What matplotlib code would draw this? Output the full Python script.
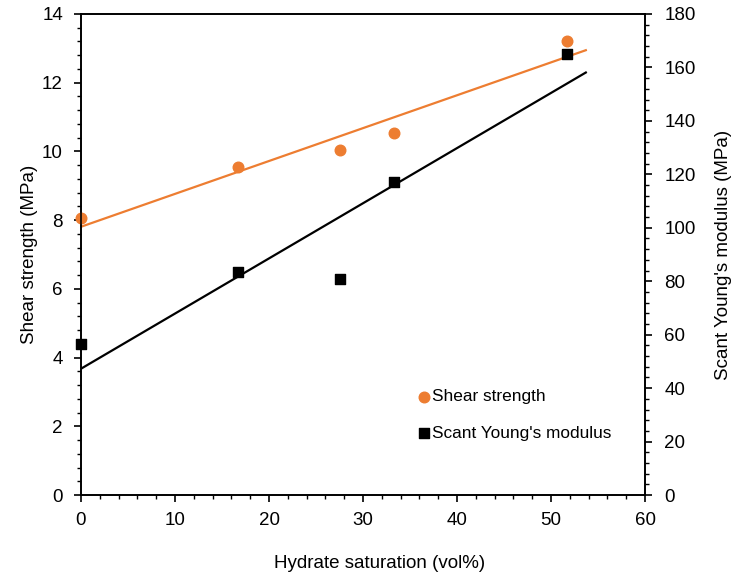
import numpy as np
import matplotlib.pyplot as plt
from matplotlib.ticker import MultipleLocator

plt.rcParams['font.family'] = ['Liberation Sans', 'DejaVu Sans']

# data
saturation = [0, 16.7, 27.5, 33.3, 51.7]
shear_strength = [8.05, 9.55, 10.05, 10.55, 13.2]
youngs_modulus = [56.5, 83.5, 81, 117, 165]
trend_end = 53.7

orange = '#ED7D31'
fs = 13.5

fig = plt.figure(figsize=(7.33, 5.75), dpi=100)
ax = fig.add_axes([0.1105, 0.139, 0.7695, 0.8367])
ax2 = ax.twinx()

# Linear trend lines (least squares, like the spreadsheet trendline)
xs = np.array([0, trend_end])
k1, b1 = np.polyfit(saturation, shear_strength, 1)
k2, b2 = np.polyfit(saturation, youngs_modulus, 1)
ax.plot(xs, k1 * xs + b1, color=orange, lw=1.6, zorder=2)
ax2.plot(xs, k2 * xs + b2, color='black', lw=1.6, zorder=2)

h1 = ax.scatter(saturation, shear_strength, s=58, marker='o', color=orange,
                label='Shear strength', zorder=3, clip_on=False)
h2 = ax2.scatter(saturation, youngs_modulus, s=58, marker='s', color='black',
                 label="Scant Young's modulus", zorder=3, clip_on=False)

ax.set_xlim(0, 60)
ax.set_ylim(0, 14)
ax2.set_ylim(0, 180)
ax.xaxis.set_major_locator(MultipleLocator(10))
ax.xaxis.set_minor_locator(MultipleLocator(2))
ax.yaxis.set_major_locator(MultipleLocator(2))
ax.yaxis.set_minor_locator(MultipleLocator(0.4))
ax2.yaxis.set_major_locator(MultipleLocator(20))
ax2.yaxis.set_minor_locator(MultipleLocator(4))

for a in (ax, ax2):
    a.tick_params(which='major', direction='out', length=5, width=1.2,
                  labelsize=fs, colors='black')
    a.tick_params(which='minor', direction='out', length=3, width=1.0)
    for sp in a.spines.values():
        sp.set_linewidth(1.2)
ax.tick_params(axis='x', pad=7)
ax.tick_params(axis='y', pad=8)
ax2.tick_params(axis='y', pad=9)

ax.set_xlabel('Hydrate saturation (vol%)', fontsize=fs)
ax.xaxis.set_label_coords(0.53, -0.125)
ax.set_ylabel('Shear strength (MPa)', fontsize=fs, labelpad=3)
ax2.set_ylabel("Scant Young's modulus (MPa)", fontsize=fs, labelpad=14)

ax2.legend(handles=[h1, h2], loc='upper left', bbox_to_anchor=(0.572, 0.323),
           bbox_transform=fig.transFigure, frameon=False, fontsize=12.4,
           handlelength=0.6, handletextpad=0.15, labelspacing=1.25,
           borderpad=0, borderaxespad=0)

fig.savefig('out.png', dpi=100)
